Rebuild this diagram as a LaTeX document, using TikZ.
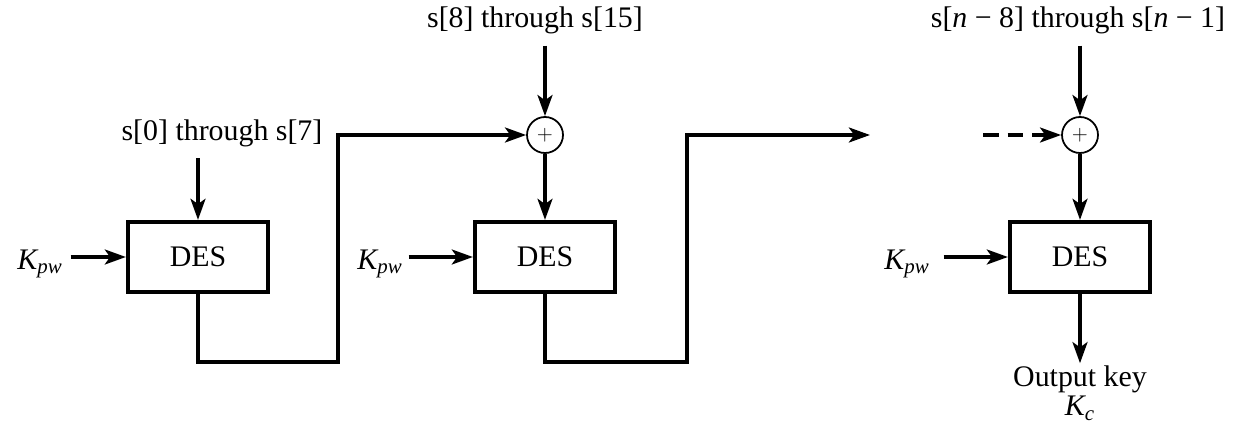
\documentclass[tikz,border=0pt]{standalone}
\usepackage{fontspec}
\setmainfont{Liberation Serif}
\usetikzlibrary{arrows.meta,positioning,calc}

\tikzset{
    desbox/.style={draw, line width=2.4pt, minimum width=2.8cm, minimum height=1.4cm, inner sep=0pt},
    xorc/.style={draw, circle, line width=1pt, minimum size=0.72cm, inner sep=0pt},
    flow/.style={line width=2pt, -{Stealth[length=12pt,width=8.5pt,inset=3pt]}},
    lbl/.style={inner sep=1pt}
}

\begin{document}
\begin{tikzpicture}[x=0.02cm, y=-0.02cm, font=\fontsize{17}{20}\selectfont]
    \useasboundingbox (0,0) rectangle (1234,426);

    % DES blocks
    \node[desbox] (des1) at (198,257) {DES};
    \node[desbox] (des2) at (545,257) {DES};
    \node[desbox] (des3) at (1080,257) {DES};

    % XOR nodes
    \node[xorc] (xor2) at (545,135) {\fontsize{13}{13}\selectfont$+$};
    \node[xorc] (xor3) at (1080,135) {\fontsize{13}{13}\selectfont$+$};

    % Input labels
    \node[lbl] (s1) at (222,133) {s[0] through s[7]};
    \node[lbl] (s2) at (535,20) {s[8] through s[15]};
    \node[lbl] (s3) at (1078,20) {s[\textit{n} − 8] through s[\textit{n} − 1]};
    \node[lbl] (k1) at (40,264) {\textit{K\textsubscript{pw}}};
    \node[lbl] (k2) at (380,264) {\textit{K\textsubscript{pw}}};
    \node[lbl] (k3) at (907,264) {\textit{K\textsubscript{pw}}};
    \node[lbl, align=center] (out) at (1080,393) {Output key\\[-3pt] \textit{K\textsubscript{c}}};

    % Corners and free ends
    \coordinate (c1) at (338,362);
    \coordinate (c2) at (687,362);
    \coordinate (tip2) at (870,135);
    \coordinate (d3) at (983,135);

    % Inputs from above
    \draw[flow] (des1.north |- 0,158) -- (des1.north);
    \draw[flow] (xor2.north |- s2.south) ++(0,10) -- (xor2.north);
    \draw[flow] (xor3.north |- s3.south) ++(0,10) -- (xor3.north);
    \draw[flow] (xor2.south) -- (des2.north);
    \draw[flow] (xor3.south) -- (des3.north);

    % Password key inputs
    \draw[flow] (des1.west -| k1.east) ++(6,0) -- (des1.west);
    \draw[flow] (des2.west -| k2.east) ++(4,0) -- (des2.west);
    \draw[flow] (des3.west -| k3.east) ++(12,0) -- (des3.west);

    % Chaining
    \draw[flow] (des1.south) |- (c1) |- (xor2.west);
    \draw[flow] (des2.south) |- (c2) |- (tip2);
    \draw[flow, dash pattern=on 9pt off 5pt] (d3) -- (xor3.west);

    % Output
    \draw[flow] (des3.south) -- (out.north);
\end{tikzpicture}
\end{document}
